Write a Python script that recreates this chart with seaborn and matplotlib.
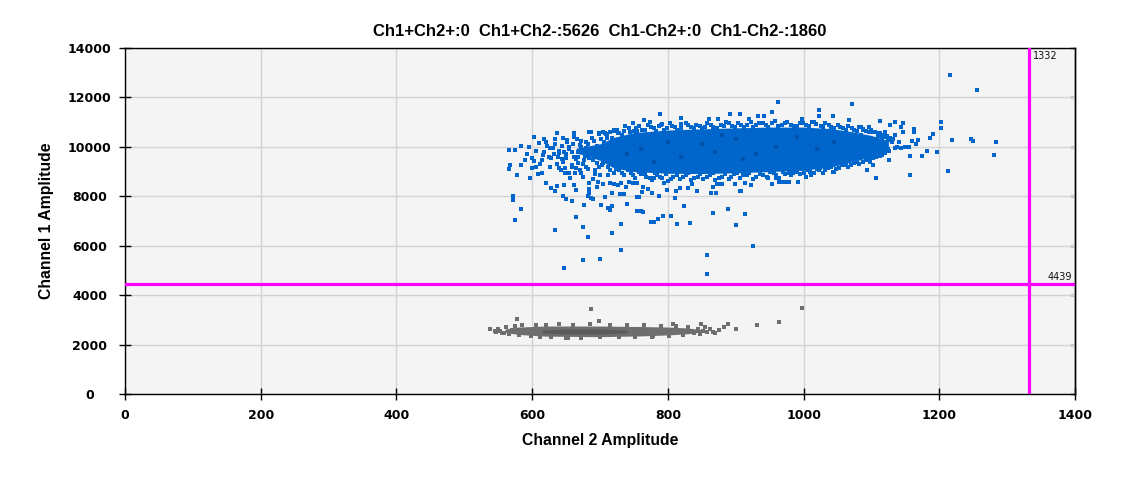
import matplotlib
matplotlib.use("Agg")
import matplotlib.pyplot as plt
import seaborn as sns
import pandas as pd

# ---------------- text / axes ----------------
title_text = "Ch1+Ch2+:0  Ch1+Ch2-:5626  Ch1-Ch2+:0  Ch1-Ch2-:1860"
x_label = "Channel 2 Amplitude"
y_label = "Channel 1 Amplitude"
x_ticks = [0, 200, 400, 600, 800, 1000, 1200, 1400]
y_ticks = [0, 2000, 4000, 6000, 8000, 10000, 12000, 14000]
threshold_ch2 = 1332
threshold_ch1 = 4439

# ---------------- blue cluster (Ch1+Ch2-) ----------------
# dense core envelope (solid region of overlapping droplets)
blue_core_x = [665, 685, 700, 720, 750, 800, 850, 900, 950, 1000, 1040, 1070, 1100, 1125]
blue_core_lo = [9750, 9600, 9450, 9150, 9000, 8930, 8920, 8950, 9000, 9060, 9180, 9380, 9600, 9900]
blue_core_hi = [9950, 10050, 10120, 10380, 10580, 10680, 10730, 10770, 10800, 10800, 10740, 10620, 10460, 10250]

blue_left = [
    (566, 9860), (575, 9860), (584, 10020), (568, 9253), (566, 9090), (583, 9253),
    (578, 8848), (603, 10386), (572, 7998), (572, 7836), (583, 7472), (575, 7040),
    (597, 8727), (600, 9131), (608, 8888), (614, 9455), (603, 9414), (615, 8929),
    (621, 8524), (628, 8322), (634, 8201), (637, 10547), (661, 10547), (621, 10183),
    (627, 9940), (616, 9657), (625, 9590), (639, 9738), (644, 9495), (652, 10278),
    (649, 8929), (656, 8727), (661, 8443), (647, 8443), (672, 8929), (684, 8524),
    (696, 8362), (697, 8592), (684, 8281), (705, 8484), (726, 8443), (731, 8524),
    (739, 8362), (755, 8524), (636, 9293), (640, 9131), (658, 9172), (667, 9334),
    (671, 10062), (684, 10588), (699, 10507), (728, 10547), (737, 10844), (748, 10952),
    (650, 9700), (655, 9900), (660, 10100), (665, 9500), (668, 9800), (672, 10000),
    (675, 9300), (678, 9650), (680, 10200), (682, 9100), (686, 9900), (688, 10350),
    (690, 9450), (692, 8900), (694, 9750), (696, 10050), (698, 9200), (700, 9600),
    (645, 9400), (652, 10200), (658, 9250), (662, 9600), (666, 10300), (670, 9050),
    (674, 9850), (684, 9550), (640, 9850), (644, 10050), (632, 9700), (628, 9550),
    (636, 9300), (648, 9150), (655, 8950), (675, 8800), (690, 8700), (700, 8850),
    (706, 10200), (712, 8850), (686, 10588), (708, 10548), (698, 10548), (720, 10629),
    (755, 10629), (705, 10587), (709, 10506), (720, 10668),
    (592, 9700), (596, 10000), (600, 9550), (605, 9850), (610, 10150), (612, 9300),
    (618, 9800), (622, 10050), (626, 9200), (630, 9950), (634, 10300), (638, 9600),
    (642, 9050), (646, 10350), (650, 9550), (654, 10000), (658, 9800), (662, 10400),
    (664, 9150), (668, 9600), (672, 10250), (676, 9450), (679, 9950), (683, 10100),
    (687, 9700), (691, 10250), (695, 9350), (699, 9900), (703, 9250), (707, 9800),
    (710, 10350), (713, 9500), (693, 9050), (680, 9200), (663, 8950), (647, 9800),
    (633, 10100), (618, 10300), (605, 9200), (590, 9450),
]
blue_below = [
    (633, 6636), (647, 5085), (646, 7998), (650, 7877), (659, 7796), (665, 7149),
    (675, 6744), (683, 6339), (675, 5409), (700, 5449), (677, 7634), (683, 7998),
    (690, 7877), (702, 7634), (708, 7958), (715, 7432), (718, 7594), (718, 6501),
    (731, 5813), (731, 6865), (740, 7675), (730, 8079), (755, 7958), (755, 7391),
    (775, 6946), (779, 6946), (786, 7068), (793, 7189), (804, 7189), (814, 6865),
    (833, 6906), (857, 5611), (857, 4842), (866, 7310), (888, 7472), (901, 6825),
    (913, 7270), (925, 5975), (824, 7594), (761, 7391), (763, 7351), (712, 7513),
    (758, 7958), (764, 8362), (771, 8282), (787, 7998), (799, 8241), (810, 7917),
    (818, 8322), (830, 8322), (836, 8484), (843, 8201), (864, 8120), (871, 8120),
    (873, 8484), (880, 8484), (899, 8484), (908, 8201), (914, 8524), (923, 8443),
    (866, 8362), (795, 8524), (779, 8727), (749, 8524), (735, 8079), (686, 7917),
    (684, 8120), (664, 8241), (661, 8443), (628, 8322), (636, 8403),
    (762, 8160), (777, 8119), (812, 8200), (863, 8119), (874, 8483), (907, 8200),
    (954, 8483), (966, 8564), (978, 8564), (992, 8564), (1004, 8766), (1011, 8847),
    (1035, 9130), (1044, 8969), (718, 8119), (721, 8483), (742, 8564), (714, 8524),
    (985, 8929), (997, 9091), (976, 8565), (973, 8565), (964, 8565), (953, 8484),
    (948, 8727), (960, 8727), (1023, 9051), (1010, 9091), (1011, 8848), (1045, 8970),
]
blue_above = [
    (789, 11316), (892, 11316), (907, 11316), (933, 11235), (942, 11235), (953, 11397),
    (963, 11802), (820, 11155), (820, 10912), (861, 11114), (874, 11114), (765, 11074),
    (773, 10993), (792, 10912), (920, 11113), (997, 11113), (1013, 10992),
    (1023, 11478), (1023, 11236), (1044, 11236), (1072, 11721), (1067, 11074),
]
blue_right = [
    (1216, 12895), (1256, 12288), (1112, 11033), (1134, 10993), (1147, 10953),
    (1128, 10871), (1144, 10791), (1163, 10710), (1163, 10588), (1147, 10588),
    (1202, 10993), (1203, 10750), (1190, 10507), (1187, 10345), (1218, 10264),
    (1246, 10305), (1250, 10224), (1284, 10183), (1280, 9657), (1213, 9010),
    (1197, 9779), (1182, 9819), (1174, 9617), (1157, 9617), (1157, 8848),
    (1165, 10103), (1160, 10224), (1168, 10264), (1150, 9981), (1156, 9981),
    (1144, 9941), (1126, 9455), (1116, 9657), (1110, 9779), (1106, 8727),
    (1094, 9051), (1103, 9253), (1096, 9455), (1079, 9374), (1063, 9253),
    (1035, 9131), (1103, 9779), (1120, 9941), (1125, 10264), (1119, 10386),
    (1112, 10548), (1097, 10791), (1084, 10791),
    (1085, 10500), (1090, 9800), (1095, 10200), (1100, 10600), (1105, 9700),
    (1108, 10000), (1115, 10300), (1120, 10600), (1125, 9900), (1130, 10200),
    (1135, 10500), (1138, 10000), (1080, 9550), (1088, 10700), (1098, 9400),
    (1110, 10450),
]
blue_edge_top = [
    (715, 10600), (725, 10700), (732, 10500), (742, 10750), (750, 10650), (758, 10850),
    (766, 10700), (775, 10800), (782, 10650), (790, 10900), (798, 10750), (806, 10850),
    (814, 10700), (826, 10950), (834, 10800), (842, 10900), (850, 10780), (858, 10950),
    (866, 10820), (878, 10900), (886, 11000), (894, 10850), (904, 10950), (912, 10800),
    (922, 11000), (930, 10880), (940, 10950), (948, 10820), (958, 11050), (968, 10900),
    (976, 11000), (986, 10850), (994, 10950), (1004, 10900), (1015, 11000), (1025, 10850),
    (1032, 10950), (1040, 10800), (1050, 10900), (1058, 10750), (1066, 10850),
    (1075, 10700), (1082, 10800), (1092, 10650), (1100, 10700), (1110, 10550),
    (1118, 10450), (1128, 10350),
    (702, 10300), (710, 10450), (718, 10350), (727, 10550), (735, 10650), (744, 10600),
    (753, 10750), (762, 10700), (770, 10900), (779, 10750), (787, 10850), (795, 10700),
    (803, 10950), (811, 10800), (820, 10750), (830, 10880), (839, 10750), (847, 10850),
    (855, 10800), (863, 10900), (872, 10780), (882, 10850), (890, 10950), (899, 10800),
    (908, 10880), (917, 10900), (926, 10800), (935, 10950), (944, 10880), (953, 10950),
    (962, 10850), (972, 10980), (981, 10900), (990, 10850), (999, 10980), (1008, 10850),
    (1019, 10920), (1028, 10800), (1037, 10880), (1045, 10760), (1054, 10820),
    (1062, 10700), (1071, 10780), (1079, 10650), (1087, 10720), (1096, 10600),
    (1105, 10620), (1114, 10500), (1123, 10450), (1132, 10300), (1140, 10200),
]
blue_edge_bottom = [
    (712, 9200), (720, 8950), (728, 9050), (736, 8850), (745, 8950), (752, 8750),
    (760, 8900), (768, 8800), (776, 8650), (784, 8850), (792, 8750), (800, 8600),
    (808, 8800), (818, 8700), (826, 8850), (834, 8650), (845, 8800), (852, 8700),
    (862, 8850), (870, 8650), (880, 8800), (890, 8700), (898, 8900), (906, 8750),
    (916, 8850), (926, 8700), (936, 8900), (946, 8800), (956, 8950), (964, 8750),
    (972, 8900), (982, 8850), (990, 9000), (1000, 8950), (1010, 9000), (1020, 9100),
    (1028, 8950), (1036, 9150), (1048, 9100), (1056, 9250), (1066, 9200), (1074, 9350),
    (1082, 9300), (1092, 9450), (1102, 9550), (1112, 9650), (1120, 9750),
    (705, 9350), (714, 9050), (724, 9100), (732, 8950), (741, 9050), (749, 8850),
    (757, 9000), (766, 8900), (774, 8750), (781, 8950), (789, 8800), (797, 8900),
    (805, 8700), (813, 8850), (822, 8800), (830, 8950), (839, 8750), (848, 8900),
    (857, 8800), (866, 8950), (875, 8750), (884, 8900), (893, 8800), (902, 8950),
    (911, 8850), (920, 8950), (930, 8800), (940, 8850), (950, 9000), (960, 8850),
    (969, 9000), (978, 8950), (986, 9100), (995, 8900), (1005, 9050), (1015, 8950),
    (1024, 9150), (1032, 9050), (1041, 9200), (1052, 9150), (1061, 9350), (1070, 9250),
    (1078, 9400), (1087, 9400), (1097, 9550), (1106, 9600), (1116, 9800), (1126, 9850),
    (1134, 9950),
]
blue_dark = [
    (760, 9900), (800, 10200), (820, 9600), (850, 10100), (870, 9800), (900, 10300),
    (930, 9700), (960, 10000), (990, 10400), (1020, 9900), (880, 10500), (740, 9700),
    (1045, 10200), (780, 9400), (910, 9500),
]

# ---------------- gray cluster (Ch1-Ch2-) ----------------
gray_core_x = [560, 580, 620, 700, 760, 800, 830, 848]
gray_core_lo = [2490, 2410, 2340, 2320, 2350, 2390, 2440, 2500]
gray_core_hi = [2630, 2710, 2750, 2750, 2730, 2710, 2670, 2610]
gray_dark_x = [615, 650, 700, 740]
gray_dark_lo = [2470, 2430, 2430, 2470]
gray_dark_hi = [2580, 2620, 2620, 2580]

gray_points = [
    (538, 2616), (547, 2495), (553, 2535), (558, 2454), (578, 3021), (686, 3426),
    (699, 2940), (998, 3466), (964, 2900), (932, 2778), (889, 2819), (882, 2697),
    (900, 2616), (867, 2495), (849, 2819), (808, 2819), (802, 2333), (653, 2252),
    (777, 2293), (545, 2560), (550, 2620), (555, 2480), (562, 2700), (566, 2420),
    (570, 2580), (575, 2740), (580, 2380), (585, 2800), (590, 2450), (598, 2330),
    (605, 2810), (612, 2300), (620, 2780), (628, 2290), (640, 2820), (650, 2270),
    (660, 2800), (672, 2280), (685, 2830), (700, 2290), (715, 2800), (728, 2300),
    (740, 2780), (752, 2310), (765, 2790), (778, 2330), (790, 2760), (802, 2330),
    (812, 2740), (822, 2400), (830, 2700), (838, 2450), (845, 2650), (852, 2560),
    (858, 2520), (862, 2620), (870, 2480), (875, 2580), (855, 2700), (848, 2420),
]

BLUE = "#0066CC"
BLUE_DARK = "#0052A8"
GRAY = "#6E6E6E"
GRAY_DARK = "#4E4E4E"
MAGENTA = "#FF00FF"


def to_df(points, group):
    return pd.DataFrame({"ch2": [p[0] for p in points],
                         "ch1": [p[1] for p in points],
                         "group": group})


blue_df = pd.concat([to_df(blue_left, "b"), to_df(blue_below, "b"),
                     to_df(blue_above, "b"), to_df(blue_right, "b"),
                     to_df(blue_edge_top, "b"), to_df(blue_edge_bottom, "b")],
                    ignore_index=True)
blue_dark_df = to_df(blue_dark, "bd")
gray_df = to_df(gray_points, "g")

fig = plt.figure(figsize=(11.25, 4.78), dpi=100)
ax = fig.add_axes([125 / 1125, 84 / 478, 950 / 1125, 346 / 478])
ax.set_facecolor("#F4F4F4")
ax.set_axisbelow(True)
ax.grid(True, color="#D3D3D3", linewidth=1.0)

# dense regions
ax.fill_between(blue_core_x, blue_core_lo, blue_core_hi, color=BLUE, linewidth=0, zorder=2)
ax.fill_between(gray_core_x, gray_core_lo, gray_core_hi, color=GRAY, linewidth=0, zorder=2)
ax.fill_between(gray_dark_x, gray_dark_lo, gray_dark_hi, color=GRAY_DARK, linewidth=0,
                alpha=0.6, zorder=2)

sq = dict(marker="s", s=6.5, linewidth=0, legend=False, zorder=3)
sns.scatterplot(data=blue_df, x="ch2", y="ch1", color=BLUE, ax=ax, **sq)
sns.scatterplot(data=blue_dark_df, x="ch2", y="ch1", color=BLUE_DARK, ax=ax, **sq)
sns.scatterplot(data=gray_df, x="ch2", y="ch1", color=GRAY, ax=ax, **sq)

# thresholds
ax.axvline(threshold_ch2, color=MAGENTA, linewidth=2.3, zorder=4)
ax.axhline(threshold_ch1, color=MAGENTA, linewidth=2.3, zorder=4)
ax.text(threshold_ch2 + 6, 13870, str(threshold_ch2), fontsize=7, color="#111111",
        ha="left", va="top", zorder=5)
ax.text(1396, threshold_ch1 + 90, str(threshold_ch1), fontsize=7, color="#111111",
        ha="right", va="bottom", zorder=5)

ax.set_xlim(0, 1400)
ax.set_ylim(0, 14000)
ax.set_xticks(x_ticks)
ax.set_yticks(y_ticks)
ax.set_xticklabels([str(v) for v in x_ticks])
ax.set_yticklabels([str(v) for v in y_ticks])

for sp in ax.spines.values():
    sp.set_color("black")
    sp.set_linewidth(1.0)

ax.tick_params(axis="both", direction="inout", length=8, width=1, colors="black",
               labelsize=9)
ax.tick_params(axis="x", pad=6.5)
ax.tick_params(axis="y", pad=21.5)
for lab in ax.get_xticklabels() + ax.get_yticklabels():
    lab.set_fontweight("bold")
    lab.set_family("DejaVu Sans")
for lab in ax.get_yticklabels():
    lab.set_horizontalalignment("center")

sec = ax.secondary_yaxis("right")
sec.set_yticks(y_ticks)
sec.tick_params(direction="in", length=3.5, width=1, labelright=False)
sec.spines["right"].set_linewidth(1.0)

ax.set_xlabel(x_label, fontsize=11.3, fontweight="bold", family="Liberation Sans",
              labelpad=8)
ax.set_ylabel(y_label, fontsize=11.3, fontweight="bold", family="Liberation Sans",
              labelpad=10)
ax.set_title(title_text, fontsize=12, fontweight="bold", family="Liberation Sans",
             pad=9)

fig.savefig("out.png", dpi=100, facecolor="white")
